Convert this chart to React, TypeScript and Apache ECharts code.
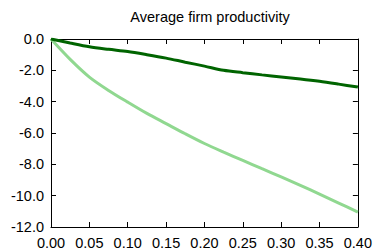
import React, { useEffect, useRef } from "react";
import * as echarts from "echarts";

const xValues = [0, 0.025, 0.05, 0.075, 0.1, 0.125, 0.15, 0.175, 0.2, 0.225, 0.25, 0.275, 0.3, 0.325, 0.35, 0.375, 0.4];
const darkSeries = [0, -0.26, -0.5, -0.66, -0.8, -1.0, -1.22, -1.48, -1.73, -2.0, -2.15, -2.29, -2.42, -2.55, -2.7, -2.88, -3.07];
const lightSeries = [0, -1.3, -2.43, -3.28, -4.03, -4.75, -5.4, -6.05, -6.67, -7.22, -7.75, -8.28, -8.8, -9.34, -9.9, -10.47, -11.05];
const title = "Average firm productivity";

export default function App() {
  const ref = useRef<HTMLDivElement>(null);
  useEffect(() => {
    if (!ref.current) return;
    const chart = echarts.init(ref.current, null, { renderer: "svg" });
    const font = "Liberation Sans, Arial, sans-serif";
    const fs = 14.5;
    const axisLine = { show: true, onZero: false, lineStyle: { color: "#000", width: 1 } };
    const tick = { show: true, inside: true, length: 5, lineStyle: { color: "#000", width: 1 } };
    chart.setOption({
      animation: false,
      backgroundColor: "#fff",
      title: {
        text: title,
        left: 205,
        textAlign: "center",
        top: 4,
        textStyle: { fontFamily: font, fontSize: fs, fontWeight: "normal", color: "#000" },
      },
      grid: { left: 51, right: 16, top: 39, bottom: 24 },
      xAxis: [
        {
          type: "value",
          min: 0,
          max: 0.4,
          interval: 0.05,
          axisLine,
          axisTick: tick,
          splitLine: { show: false },
          axisLabel: {
            margin: 8,
            color: "#000",
            fontFamily: font,
            fontSize: fs,
            formatter: (v: number) => v.toFixed(2),
          },
        },
        {
          type: "value",
          position: "top",
          min: 0,
          max: 0.4,
          interval: 0.05,
          axisLine,
          axisTick: tick,
          axisLabel: { show: false },
          splitLine: { show: false },
        },
      ],
      yAxis: [
        {
          type: "value",
          min: -12,
          max: 0,
          interval: 2,
          axisLine,
          axisTick: tick,
          splitLine: { show: false },
          axisLabel: {
            margin: 7,
            color: "#000",
            fontFamily: font,
            fontSize: fs,
            formatter: (v: number) => v.toFixed(1),
          },
        },
        {
          type: "value",
          position: "right",
          min: -12,
          max: 0,
          interval: 2,
          axisLine,
          axisTick: tick,
          axisLabel: { show: false },
          splitLine: { show: false },
        },
      ],
      series: [
        {
          type: "line",
          data: xValues.map((x, i) => [x, lightSeries[i]]),
          showSymbol: false,
          smooth: 0.3,
          lineStyle: { color: "#90d890", width: 3 },
          z: 2,
        },
        {
          type: "line",
          data: xValues.map((x, i) => [x, darkSeries[i]]),
          showSymbol: false,
          smooth: 0.3,
          lineStyle: { color: "#006400", width: 3 },
          z: 3,
        },
      ],
    });
    return () => chart.dispose();
  }, []);
  return <div ref={ref} style={{ position: "fixed", left: 0, top: 0, width: 375, height: 251 }} />;
}
